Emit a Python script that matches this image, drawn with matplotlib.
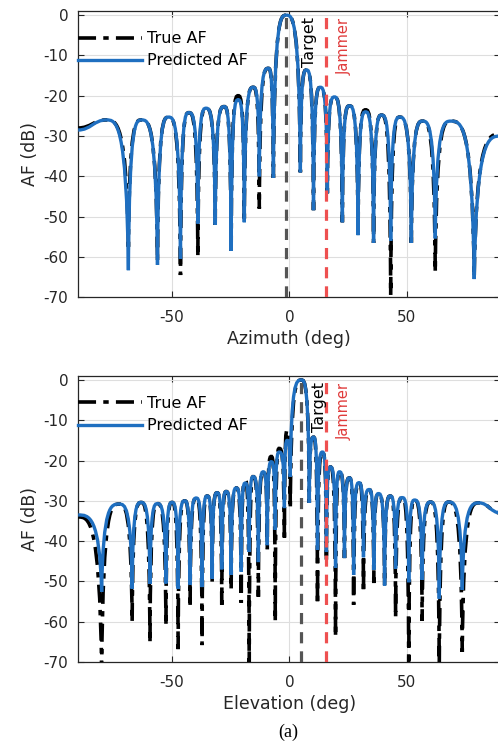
import numpy as np
import matplotlib.pyplot as plt
from matplotlib.path import Path
from matplotlib.patches import PathPatch
from matplotlib.lines import Line2D

plt.rcParams['axes.unicode_minus'] = False

# azimuth cut: lobe knots (edges, peaks, nulls)
az_deg = [-90, -78, -68.6, -63, -56.2, -51.5, -46.4, -42.8, -39, -35.5, -31.6, -27.8,
          -24.8, -21.8, -19.2, -15.4, -12.8, -9.0, -6.8, -1.3, 4.7, 7.3, 10.3, 13.2,
          16.2, 19.2, 22.6, 25.6, 29.3, 32.5, 35.9, 39.3, 43.2, 47, 52, 56.8, 62.2,
          68.8, 78.8, 90]
az_pred = [-28.5, -26, -63.3, -26, -62, -25.3, -60.5, -24.2, -51.7, -23.1, -52, -22.7,
           -58.5, -21, -51.4, -17.9, -40, -13.2, -40.4, 0, -39, -13.6, -48.4, -17.9,
           -44.2, -20.3, -51.4, -22.5, -54.6, -24, -56.5, -24.8, -56, -25.3, -56.5, -26.3,
           -55.4, -26.3, -65.5, -30]
az_true = [-28, -26, -57.5, -26, -61, -25.3, -64.5, -24.2, -60, -23.1, -52, -22.7,
           -58.5, -20, -51.4, -17.9, -48, -13.2, -40.4, 0, -39, -13.6, -48.4, -17.9,
           -44.2, -20.3, -51.4, -22.5, -54.6, -23.5, -56.5, -24.8, -69.5, -25.3, -56.5, -26.3,
           -63.8, -26.3, -65, -29.5]

# elevation cut
el_deg = [-90, -80, -72.6, -67, -63.2, -59.4, -56.2, -52.6, -50, -47.4, -44.6, -42.3,
          -39.7, -37.2, -35, -32.9, -30.8, -28.8, -26.9, -24.8, -22.6, -20.5, -18.8, -17.1,
          -15.4, -13.2, -11.1, -9.4, -7.7, -6, -4.3, -2.1, -0.9, 0.4, 5.1, 8.5, 10.3, 12,
          14.1, 15.8, 17.5, 19.7, 21.4, 23.5, 25.6, 27.4, 29.7, 31.6, 34, 36, 38, 40.6,
          43, 45.3, 48.1, 50.9, 53.4, 56.6, 60.2, 63.9, 67.9, 73.7, 80.8, 90]
el_pred = [-33.5, -52.6, -30.8, -51.8, -30.4, -50.6, -30.7, -50.5, -30.4, -51.8, -30, -50.8,
           -29.3, -51.4, -28.8, -49.3, -28, -47, -27.7, -48.4, -26.8, -47.6, -25.6, -42.7,
           -24, -45.2, -22.8, -41, -20.3, -37.2, -17.9, -31.8, -15, -24, 0, -30.5, -14.2, -42.2,
           -17.9, -42.7, -21.6, -46.6, -22.8, -44.2, -24.3, -48.4, -25.5, -44, -27.2, -47.1,
           -28.2, -51, -28.8, -46.8, -29.2, -50.2, -29.8, -49.6, -30.3, -54.3, -30.3, -52.1,
           -30.5, -33]
el_true = [-34, -72, -30.8, -60, -30.4, -65.3, -30.7, -61, -30.4, -66.8, -30, -56.5,
           -29.3, -65.8, -28.8, -50, -28, -55.8, -27.7, -52, -26.8, -55.3, -25, -72,
           -24, -53.8, -22.8, -42, -19, -60, -17, -40, -12.5, -32, 0, -30.5, -14.2, -55.8,
           -17.9, -45, -21.6, -63.8, -22.8, -44.2, -24.3, -55.8, -25.5, -52.8, -27.2, -50.4,
           -28.2, -51, -28.8, -59, -29.2, -72, -29.8, -59.8, -30.3, -72, -30.3, -67.5,
           -30.5, -33]

az_target, az_jammer = -1.3, 15.5
el_target, el_jammer = 5.1, 15.8

blue = '#1f6fc0'
ink = '#262626'
dashdot = (0, (5, 2, 1.5, 2))


def lobes(xs, ys, ref):
    # null = knot lower than both neighbours (taken from predicted curve)
    kinds = ['p'] + ['n' if ref[i] < ref[i - 1] and ref[i] < ref[i + 1] else 'p'
                     for i in range(1, len(ref) - 1)] + ['p']
    verts = [(xs[0], ys[0])]
    codes = [Path.MOVETO]
    for i in range(len(xs) - 1):
        xa, ya, xb, yb = xs[i], ys[i], xs[i + 1], ys[i + 1]
        w = xb - xa
        c1 = (xa + 0.08 * w, yb) if kinds[i] == 'n' else (xa + 0.45 * w, ya)
        c2 = (xb - 0.08 * w, ya) if kinds[i + 1] == 'n' else (xb - 0.45 * w, yb)
        verts += [c1, c2, (xb, yb)]
        codes += [Path.CURVE4] * 3
    return Path(verts, codes)


def panel(ax, deg, pred, true, target, jammer, tx, jx, xlabel):
    ax.add_patch(PathPatch(lobes(deg, true, pred), fill=False, color='black',
                           lw=2.6, ls=dashdot, zorder=3))
    ax.add_patch(PathPatch(lobes(deg, pred, pred), fill=False, color=blue,
                           lw=2.4, zorder=4))
    ax.axvline(target, color='#555555', lw=2.3, ls=(0, (3.5, 2.5)), zorder=5)
    ax.axvline(jammer, color='#ee5050', lw=2.3, ls=(0, (3.5, 2.5)), zorder=5)
    ax.text(tx, -0.5, 'Target', rotation=90, ha='center', va='top',
            fontsize=11.5, color='black', zorder=6)
    ax.text(jx, -0.8, 'Jammer', rotation=90, ha='center', va='top',
            fontsize=10.5, color='#e03c3c', zorder=6)
    ax.set_xlim(-90, 90)
    ax.set_ylim(-70, 1)
    ax.set_xticks([-50, 0, 50])
    ax.set_yticks(np.arange(-70, 1, 10))
    ax.grid(True, color='#dedede', lw=0.8)
    ax.set_axisbelow(True)
    ax.tick_params(direction='in', length=4, width=0.8, labelsize=11,
                   colors=ink, top=True, right=True)
    ax.tick_params(axis='x', pad=9)
    ax.tick_params(axis='y', pad=7)
    for s in ax.spines.values():
        s.set_color(ink)
        s.set_linewidth(0.9)
    ax.set_xlabel(xlabel, fontsize=12.5, color=ink, labelpad=4)
    ax.set_ylabel('AF (dB)', fontsize=12.5, color=ink, labelpad=3)
    handles = [Line2D([], [], color='black', lw=2.6, ls=dashdot),
               Line2D([], [], color=blue, lw=2.4)]
    ax.legend(handles, ['True AF', 'Predicted AF'], loc='upper left',
              bbox_to_anchor=(0.0, 0.93), frameon=False, fontsize=11.5,
              handlelength=4.0, handletextpad=0.3, labelspacing=0.45,
              borderpad=0, borderaxespad=0)


fig = plt.figure(figsize=(4.98, 7.43), dpi=100)
ax1 = fig.add_axes([0.157, 0.600, 0.848, 0.385])
ax2 = fig.add_axes([0.157, 0.109, 0.848, 0.385])

panel(ax1, az_deg, az_pred, az_true, az_target, az_jammer, 8.4, 23.5, 'Azimuth (deg)')
panel(ax2, el_deg, el_pred, el_true, el_target, el_jammer, 12.8, 23.5, 'Elevation (deg)')

fig.text(0.579, 0.003, '(a)', ha='center', va='bottom', fontsize=13,
         family='Liberation Serif')

fig.savefig('out.png', dpi=100)
